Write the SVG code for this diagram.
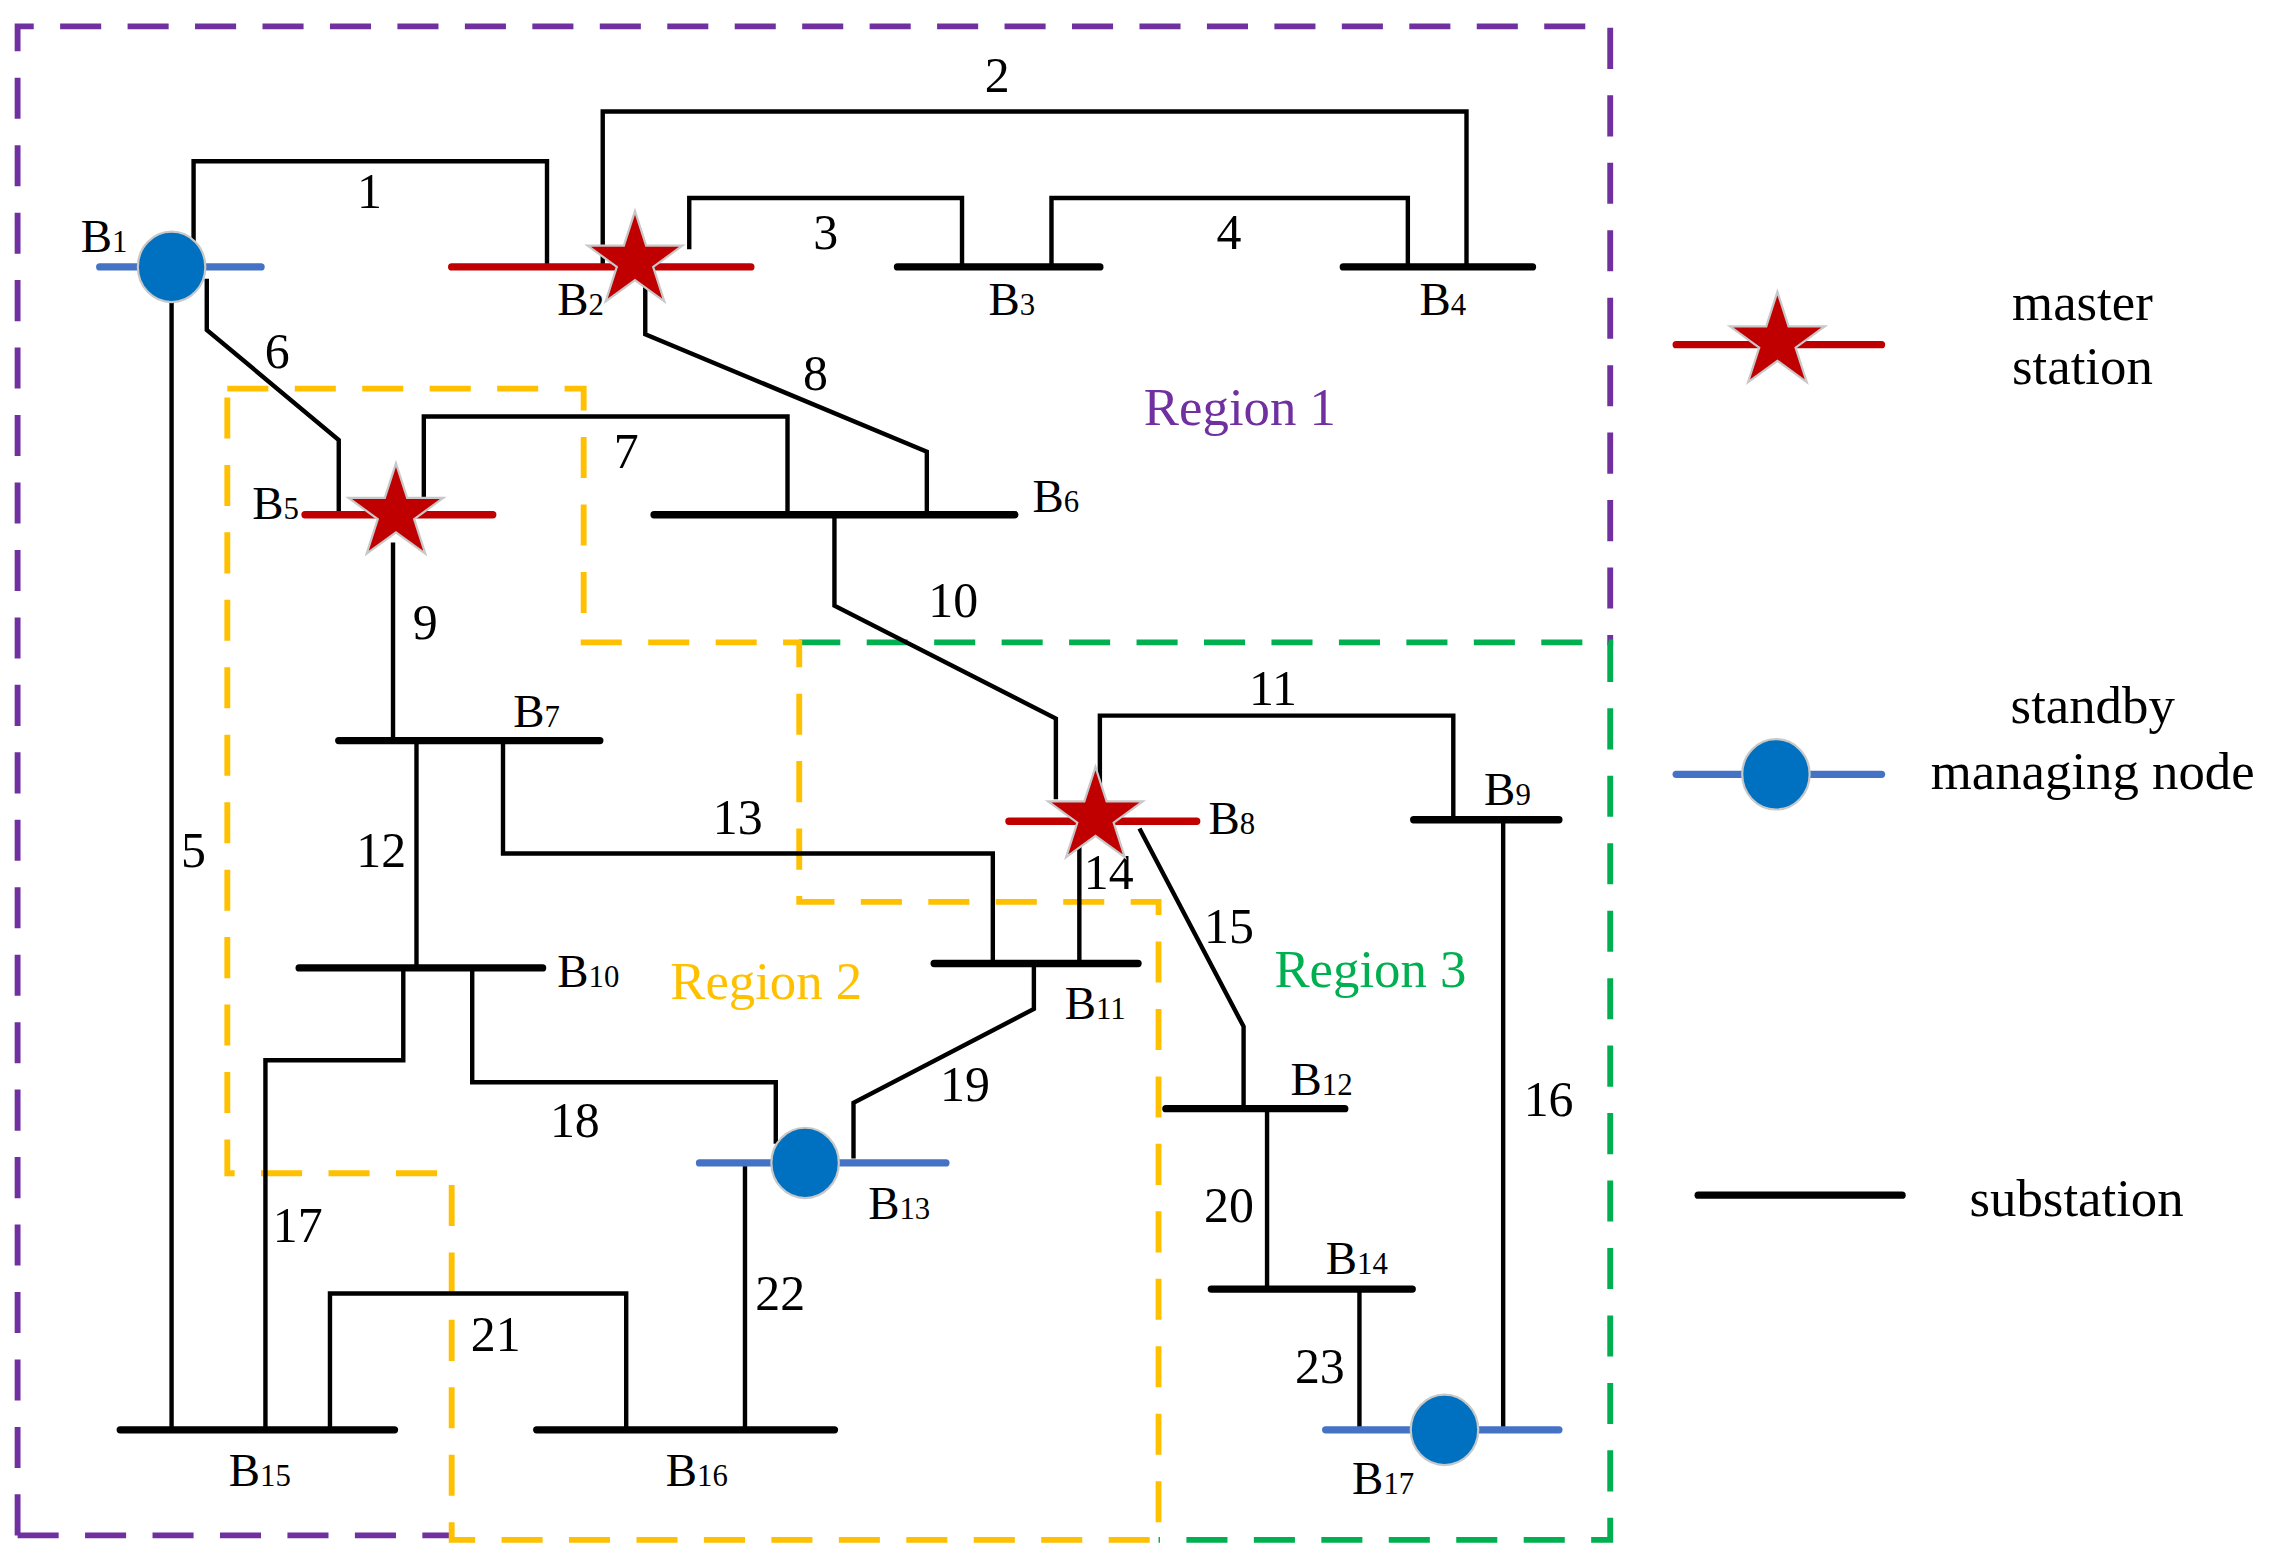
<svg xmlns="http://www.w3.org/2000/svg" width="2295" height="1565" viewBox="0 0 2295 1565">
<style>
.bus{stroke:#000;stroke-width:5;stroke-linecap:round;fill:none}
.rb{stroke:#C00000;stroke-width:5;stroke-linecap:round}
.bb{stroke:#4472C4;stroke-width:5;stroke-linecap:round}
.ln{stroke:#000;stroke-width:3;fill:none}
.rg{fill:none;stroke-width:4;stroke-dasharray:28 18}
text{font-family:"Liberation Serif",serif;fill:#000}
.n{font-size:34px;text-anchor:middle}
.lg{font-size:36px;text-anchor:middle}
.b{font-size:32px}
.s{font-size:21px}
.r{font-size:36px}
</style>
<defs>
<path id="star" d="M0,-34 L7.6,-10.5 L32.3,-10.5 L12.4,4 L20,27.5 L0,13 L-20,27.5 L-12.4,4 L-32.3,-10.5 L-7.6,-10.5 Z" fill="#C00000" stroke="#C8C8C8" stroke-width="1.5"/>
<ellipse id="dot" rx="23" ry="24" fill="#0070C0" stroke="#C8C8C8" stroke-width="1.5"/>
</defs>
<rect width="2295" height="1565" fill="#fff"/>
<g transform="scale(1.4665)">
<g id="regions">
<path class="rg" stroke="#7030A0" d="M12,1047 L12,18 L1098,18 L1098,440 M12,1047 L308,1047"/>
<path class="rg" stroke="#00B050" d="M545,438 L1098,438 L1098,1050 L790,1050"/>
<path class="rg" stroke="#FFC000" d="M155,265 L398,265 L398,438 L545,438 L545,615 L790,615 L790,1050 L308,1050 L308,800 L155,800 Z"/>
</g>
<g id="connectors">
<path class="ln" d="M132,170 V110 H373 V182"/>
<path class="ln" d="M411,182 V76 H1000 V182"/>
<path class="ln" d="M470,170 V135 H656 V182"/>
<path class="ln" d="M717,182 V135 H960 V182"/>
<path class="ln" d="M117,205 V975"/>
<path class="ln" d="M141,190 V225 L231,300 V351"/>
<path class="ln" d="M289,340 V284 H537 V351"/>
<path class="ln" d="M440,195 V228 L632,308 V351"/>
<path class="ln" d="M268,370 V505"/>
<path class="ln" d="M569,351 V413 L720,490 V545"/>
<path class="ln" d="M750,548 V488 H991 V559"/>
<path class="ln" d="M284,505 V660"/>
<path class="ln" d="M343,505 V582 H677 V657"/>
<path class="ln" d="M736,575 V657"/>
<path class="ln" d="M777,565 L848,700 V756"/>
<path class="ln" d="M1025,559 V975"/>
<path class="ln" d="M275,660 V723 H181 V975"/>
<path class="ln" d="M322,660 V738 H529 V780"/>
<path class="ln" d="M705,657 V688 L582,752 V790"/>
<path class="ln" d="M864,756 V879"/>
<path class="ln" d="M225,975 V882 H427 V975"/>
<path class="ln" d="M508,793 V975"/>
<path class="ln" d="M927,879 V975"/>
</g>
<g id="linelabels">
<text class="n" x="252" y="142">1</text>
<text class="n" x="680" y="63">2</text>
<text class="n" x="563" y="170">3</text>
<text class="n" x="838" y="170">4</text>
<text class="n" x="132" y="591">5</text>
<text class="n" x="189" y="251">6</text>
<text class="n" x="427" y="319">7</text>
<text class="n" x="556" y="266">8</text>
<text class="n" x="290" y="436">9</text>
<text class="n" x="650" y="421">10</text>
<text class="n" x="868" y="481">11</text>
<text class="n" x="260" y="591">12</text>
<text class="n" x="503" y="569">13</text>
<text class="n" x="756" y="606">14</text>
<text class="n" x="838" y="643">15</text>
<text class="n" x="1056" y="761">16</text>
<text class="n" x="203" y="847">17</text>
<text class="n" x="392" y="775">18</text>
<text class="n" x="658" y="751">19</text>
<text class="n" x="838" y="833">20</text>
<text class="n" x="338" y="921">21</text>
<text class="n" x="532" y="893">22</text>
<text class="n" x="900" y="943">23</text>
</g>
<g id="B1"><line class="bb" x1="68" y1="182" x2="178" y2="182"/><use href="#dot" x="117" y="182"/><text class="b" x="55" y="172">B<tspan class="s">1</tspan></text></g>
<g id="B2"><line class="rb" x1="308" y1="182" x2="512" y2="182"/><use href="#star" x="433" y="178"/><text class="b" x="380" y="215">B<tspan class="s">2</tspan></text></g>
<g id="B3"><line class="bus" x1="612" y1="182" x2="750" y2="182"/><text class="b" x="674" y="215">B<tspan class="s">3</tspan></text></g>
<g id="B4"><line class="bus" x1="916" y1="182" x2="1045" y2="182"/><text class="b" x="968" y="215">B<tspan class="s">4</tspan></text></g>
<g id="B5"><line class="rb" x1="208" y1="351" x2="336" y2="351"/><use href="#star" x="270" y="350"/><text class="b" x="172" y="354">B<tspan class="s">5</tspan></text></g>
<g id="B6"><line class="bus" x1="446" y1="351" x2="692" y2="351"/><text class="b" x="704" y="349">B<tspan class="s">6</tspan></text></g>
<g id="B7"><line class="bus" x1="231" y1="505" x2="409" y2="505"/><text class="b" x="350" y="496">B<tspan class="s">7</tspan></text></g>
<g id="B8"><line class="rb" x1="688" y1="560" x2="816" y2="560"/><use href="#star" x="747" y="557"/><text class="b" x="824" y="569">B<tspan class="s">8</tspan></text></g>
<g id="B9"><line class="bus" x1="964" y1="559" x2="1063" y2="559"/><text class="b" x="1012" y="549">B<tspan class="s">9</tspan></text></g>
<g id="B10"><line class="bus" x1="204" y1="660" x2="370" y2="660"/><text class="b" x="380" y="673">B<tspan class="s">10</tspan></text></g>
<g id="B11"><line class="bus" x1="637" y1="657" x2="776" y2="657"/><text class="b" x="726" y="695">B<tspan class="s">11</tspan></text></g>
<g id="B12"><line class="bus" x1="795" y1="756" x2="917" y2="756"/><text class="b" x="880" y="747">B<tspan class="s">12</tspan></text></g>
<g id="B13"><line class="bb" x1="477" y1="793" x2="645" y2="793"/><use href="#dot" x="549" y="793"/><text class="b" x="592" y="831">B<tspan class="s">13</tspan></text></g>
<g id="B14"><line class="bus" x1="826" y1="879" x2="963" y2="879"/><text class="b" x="904" y="869">B<tspan class="s">14</tspan></text></g>
<g id="B15"><line class="bus" x1="82" y1="975" x2="269" y2="975"/><text class="b" x="156" y="1013">B<tspan class="s">15</tspan></text></g>
<g id="B16"><line class="bus" x1="366" y1="975" x2="569" y2="975"/><text class="b" x="454" y="1013">B<tspan class="s">16</tspan></text></g>
<g id="B17"><line class="bb" x1="904" y1="975" x2="1063" y2="975"/><use href="#dot" x="985" y="975"/><text class="b" x="922" y="1019">B<tspan class="s">17</tspan></text></g>
<g id="regionlabels">
<text class="r" x="780" y="290" style="fill:#7030A0">Region 1</text>
<text class="r" x="457" y="681" style="fill:#FFC000">Region 2</text>
<text class="r" x="869" y="673" style="fill:#00B050">Region 3</text>
</g>
<g id="legend">
<line class="rb" x1="1143" y1="235" x2="1283" y2="235"/><use href="#star" x="1212" y="233"/>
<text class="lg" x="1420" y="218">master</text><text class="lg" x="1420" y="262">station</text>
<line class="bb" x1="1143" y1="528" x2="1283" y2="528"/><use href="#dot" x="1211" y="528"/>
<text class="lg" x="1427" y="493">standby</text><text class="lg" x="1427" y="538">managing node</text>
<line class="bus" x1="1158" y1="815" x2="1297" y2="815"/>
<text class="lg" x="1416" y="829">substation</text>
</g>
</g>
</svg>
